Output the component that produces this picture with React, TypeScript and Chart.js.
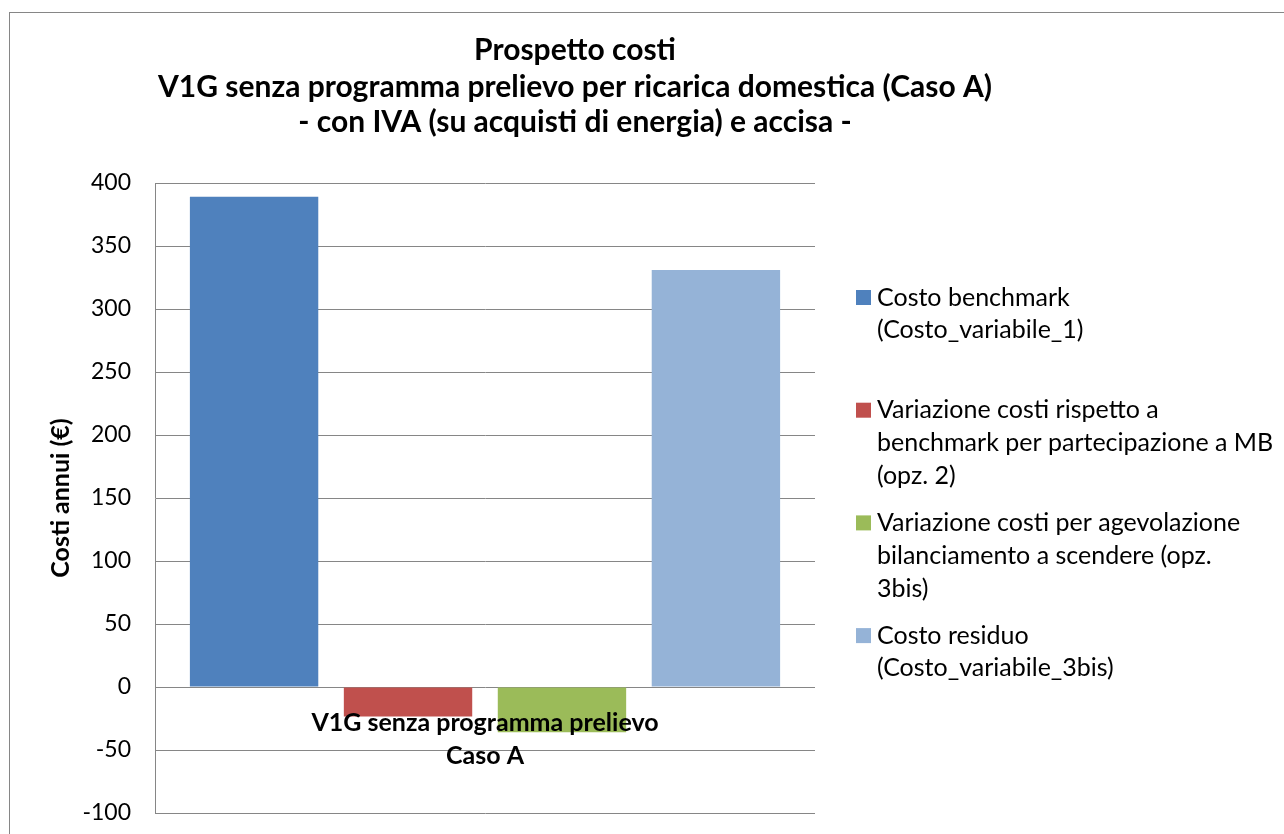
import React, { useEffect, useRef } from 'react';
import { Chart, registerables } from 'chart.js';

Chart.register(...registerables);

const titleLines = [
  'Prospetto costi',
  'V1G senza programma prelievo per ricarica domestica (Caso A)',
  '- con IVA (su acquisti di energia) e accisa -',
];
const categories = [['V1G senza programma prelievo', 'Caso A']];
const seriesLabels = [
  'Costo benchmark\n(Costo_variabile_1)',
  'Variazione costi rispetto a\nbenchmark per partecipazione a MB\n(opz. 2)',
  'Variazione costi per agevolazione\nbilanciamento a scendere (opz.\n3bis)',
  'Costo residuo\n(Costo_variabile_3bis)',
];
const costoBenchmark = [389];
const variazioneMB = [-23.5];
const variazioneBilanciamento = [-36];
const costoResiduo = [331];
const seriesColors = ['#4F81BD', '#C0504D', '#9BBB59', '#95B3D7'];
const yMin = -100;
const yMax = 400;
const yStep = 50;
const yAxisTitle = 'Costi annui (€)';

const FONT = 'Lato, "Open Sans", sans-serif';
const CANVAS_W = 1274;
const CANVAS_H = 821;

const titlePlugin = {
  id: 'excelTitle',
  afterDraw(chart: any) {
    const ctx = chart.ctx;
    ctx.save();
    ctx.fillStyle = '#000';
    ctx.font = `bold 30px ${FONT}`;
    ctx.textAlign = 'center';
    ctx.textBaseline = 'alphabetic';
    const cx = 565;
    const baselines = [46.5, 84, 119];
    titleLines.forEach((t, i) => ctx.fillText(t, cx, baselines[i]));
    ctx.restore();
  },
};

const legendPlugin = {
  id: 'excelLegend',
  afterDraw(chart: any) {
    const ctx = chart.ctx;
    ctx.save();
    ctx.font = `25px ${FONT}`;
    ctx.textAlign = 'left';
    ctx.textBaseline = 'middle';
    const boxX = 846;
    const textX = 867;
    const firstTop = 277;
    const itemStep = 112.7;
    const lineStep = 32.8;
    chart.data.datasets.forEach((ds: any, i: number) => {
      const top = firstTop + i * itemStep;
      ctx.fillStyle = ds.backgroundColor;
      ctx.fillRect(boxX, top, 15, 15);
      ctx.fillStyle = '#000';
      String(ds.label)
        .split('\n')
        .forEach((line: string, j: number) => {
          ctx.fillText(line, textX, top + 7.5 + j * lineStep);
        });
    });
    ctx.restore();
  },
};

export default function App() {
  const ref = useRef<HTMLCanvasElement>(null);

  useEffect(() => {
    if (!ref.current) return;
    const series = [costoBenchmark, variazioneMB, variazioneBilanciamento, costoResiduo];
    const chart = new Chart(ref.current, {
      type: 'bar',
      data: {
        labels: categories as any,
        datasets: series.map((d, i) => ({
          label: seriesLabels[i],
          data: d,
          backgroundColor: seriesColors[i],
          borderWidth: 0,
          categoryPercentage: 0.933,
          barPercentage: 0.834,
        })),
      },
      options: {
        responsive: false,
        maintainAspectRatio: false,
        animation: false,
        layout: { padding: { top: 170, right: CANVAS_W - 805, bottom: CANVAS_H - 800, left: 0 } },
        plugins: {
          legend: { display: false },
          title: { display: false },
          tooltip: { enabled: false },
        },
        scales: {
          x: {
            type: 'category',
            position: { y: 0 } as any,
            grid: { display: false, drawTicks: false },
            border: { display: false },
            ticks: {
              z: 1,
              color: '#000',
              font: { family: FONT, size: 25, weight: 'bold', lineHeight: 1.32 },
              padding: 19,
              maxRotation: 0,
              autoSkip: false,
            },
            afterFit: (s: any) => {
              s.height = 0;
            },
          },
          y: {
            min: yMin,
            max: yMax,
            ticks: {
              stepSize: yStep,
              color: '#000',
              font: { family: FONT, size: 23 },
              padding: 24,
            },
            grid: { color: '#868686', lineWidth: 1, drawTicks: false },
            border: { display: true, color: '#868686', width: 1 },
            title: {
              display: true,
              text: yAxisTitle,
              color: '#000',
              font: { family: FONT, size: 25, weight: 'bold', lineHeight: 1.2 },
              padding: { top: 36, bottom: 0 },
            },
            afterFit: (s: any) => {
              s.width = 145;
              s.paddingTop = 0;
              s.paddingBottom = 0;
            },
          },
        },
      },
      plugins: [titlePlugin, legendPlugin],
    });
    if ((document as any).fonts && (document as any).fonts.ready) {
      (document as any).fonts.ready.then(() => chart.update());
    }
    return () => chart.destroy();
  }, []);

  return (
    <div
      style={{
        position: 'fixed',
        left: 0,
        top: 0,
        width: 1284,
        height: 834,
        overflow: 'hidden',
        background: '#fff',
      }}
    >
      <div
        style={{
          position: 'absolute',
          left: 9,
          top: 12,
          width: 1400,
          height: 900,
          border: '1px solid #868686',
          background: '#fff',
        }}
      >
        <canvas ref={ref} width={CANVAS_W} height={CANVAS_H} style={{ display: 'block', width: CANVAS_W, height: CANVAS_H }} />
      </div>
    </div>
  );
}
